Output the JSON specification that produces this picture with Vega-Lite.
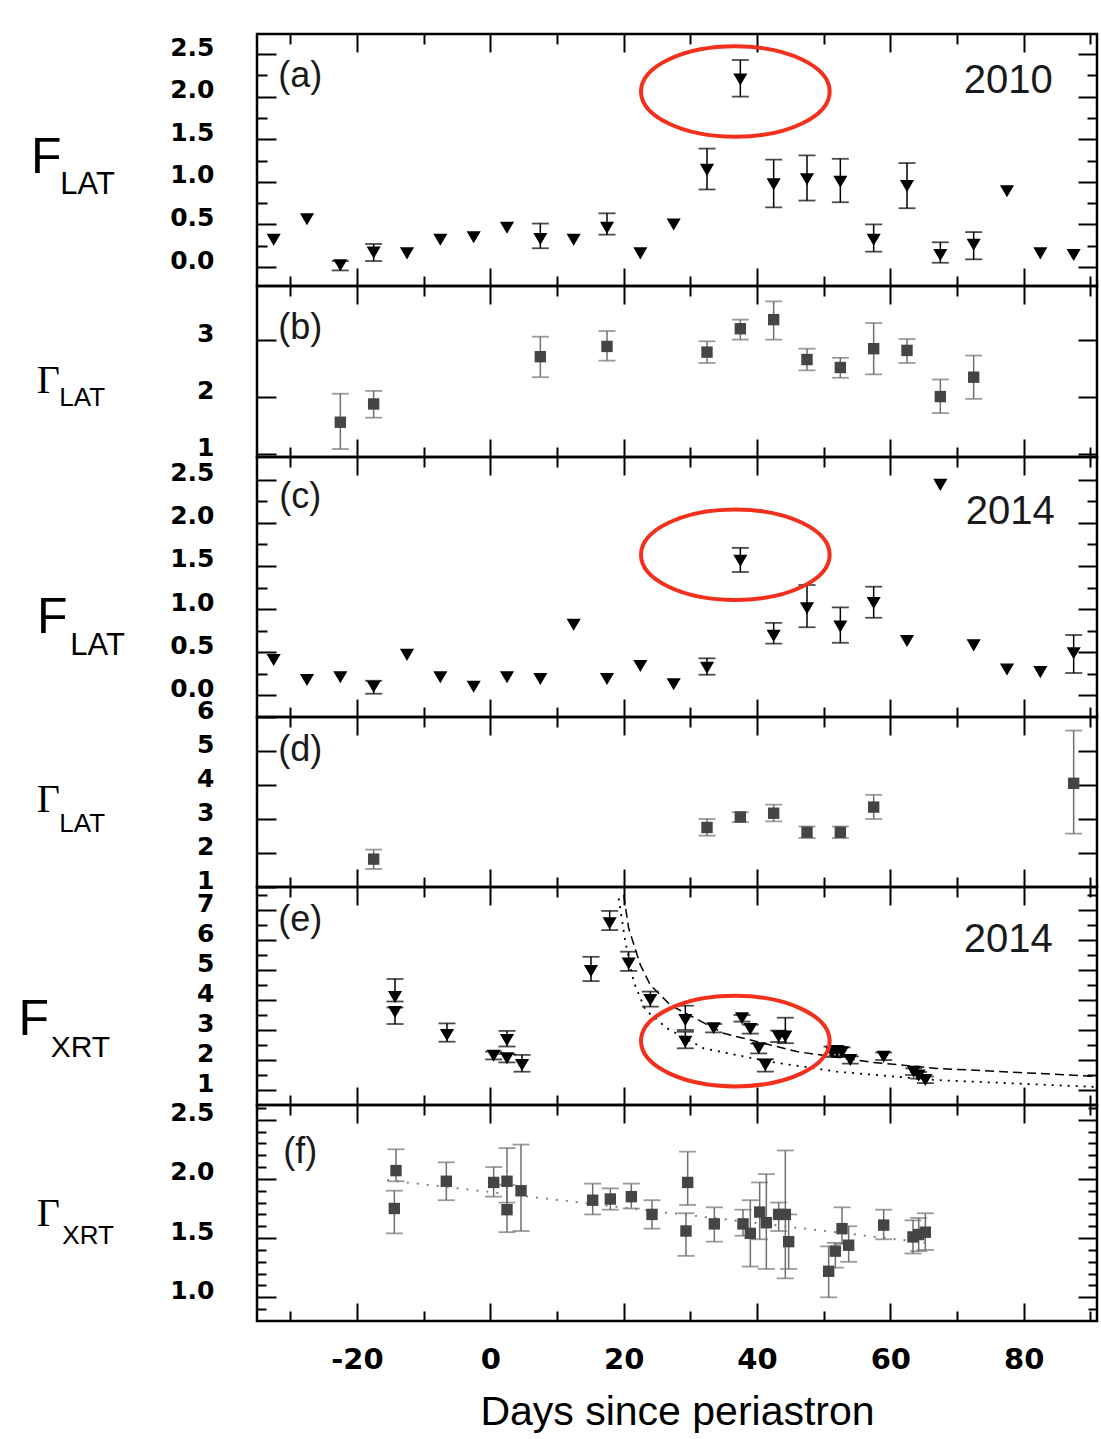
{
  "$schema": "https://vega.github.io/schema/vega-lite/v6.json",
  "background": "white",
  "padding": {"left": 17, "top": 31, "right": 5, "bottom": 5},
  "spacing": 0,
  "bounds": "flush",
  "datasets": {
    "a": [
      {"x": -32.5, "y": 0.32}, {"x": -27.5, "y": 0.56}, {"x": -22.5, "y": 0.02, "lo": -0.04, "hi": 0.07},
      {"x": -17.5, "y": 0.17, "lo": 0.07, "hi": 0.27}, {"x": -12.5, "y": 0.16}, {"x": -7.5, "y": 0.32},
      {"x": -2.5, "y": 0.35}, {"x": 2.5, "y": 0.46}, {"x": 7.5, "y": 0.33, "lo": 0.22, "hi": 0.51},
      {"x": 12.5, "y": 0.32}, {"x": 17.5, "y": 0.46, "lo": 0.38, "hi": 0.63}, {"x": 22.5, "y": 0.16},
      {"x": 27.5, "y": 0.5}, {"x": 32.5, "y": 1.14, "lo": 0.91, "hi": 1.39}, {"x": 37.5, "y": 2.2, "lo": 2.0, "hi": 2.43},
      {"x": 42.5, "y": 0.97, "lo": 0.7, "hi": 1.26}, {"x": 47.5, "y": 1.03, "lo": 0.78, "hi": 1.31},
      {"x": 52.5, "y": 1.0, "lo": 0.76, "hi": 1.27}, {"x": 57.5, "y": 0.32, "lo": 0.18, "hi": 0.5},
      {"x": 62.5, "y": 0.95, "lo": 0.69, "hi": 1.22}, {"x": 67.5, "y": 0.14, "lo": 0.05, "hi": 0.29},
      {"x": 72.5, "y": 0.26, "lo": 0.09, "hi": 0.41}, {"x": 77.5, "y": 0.89}, {"x": 82.5, "y": 0.16}, {"x": 87.5, "y": 0.14}
    ],
    "b": [
      {"x": -22.5, "y": 1.56, "lo": 1.09, "hi": 2.06}, {"x": -17.5, "y": 1.88, "lo": 1.64, "hi": 2.11},
      {"x": 7.5, "y": 2.71, "lo": 2.35, "hi": 3.06}, {"x": 17.5, "y": 2.89, "lo": 2.64, "hi": 3.16},
      {"x": 32.5, "y": 2.79, "lo": 2.6, "hi": 2.98}, {"x": 37.5, "y": 3.2, "lo": 3.01, "hi": 3.36},
      {"x": 42.5, "y": 3.36, "lo": 3.01, "hi": 3.68}, {"x": 47.5, "y": 2.66, "lo": 2.47, "hi": 2.85},
      {"x": 52.5, "y": 2.52, "lo": 2.34, "hi": 2.69}, {"x": 57.5, "y": 2.85, "lo": 2.4, "hi": 3.3},
      {"x": 62.5, "y": 2.82, "lo": 2.6, "hi": 3.02}, {"x": 67.5, "y": 2.01, "lo": 1.72, "hi": 2.31},
      {"x": 72.5, "y": 2.35, "lo": 1.97, "hi": 2.73}
    ],
    "c": [
      {"x": -32.5, "y": 0.41}, {"x": -27.5, "y": 0.18}, {"x": -22.5, "y": 0.21}, {"x": -17.5, "y": 0.1, "lo": 0.02, "hi": 0.17},
      {"x": -12.5, "y": 0.47}, {"x": -7.5, "y": 0.21}, {"x": -2.5, "y": 0.1}, {"x": 2.5, "y": 0.21}, {"x": 7.5, "y": 0.19},
      {"x": 12.5, "y": 0.82}, {"x": 17.5, "y": 0.19}, {"x": 22.5, "y": 0.34}, {"x": 27.5, "y": 0.13},
      {"x": 32.5, "y": 0.32, "lo": 0.24, "hi": 0.43}, {"x": 37.5, "y": 1.56, "lo": 1.43, "hi": 1.71},
      {"x": 42.5, "y": 0.69, "lo": 0.6, "hi": 0.84}, {"x": 47.5, "y": 1.01, "lo": 0.79, "hi": 1.28},
      {"x": 52.5, "y": 0.8, "lo": 0.61, "hi": 1.02}, {"x": 57.5, "y": 1.07, "lo": 0.9, "hi": 1.26},
      {"x": 62.5, "y": 0.63}, {"x": 67.5, "y": 2.44}, {"x": 72.5, "y": 0.58}, {"x": 77.5, "y": 0.3}, {"x": 82.5, "y": 0.27},
      {"x": 87.5, "y": 0.49, "lo": 0.26, "hi": 0.7}
    ],
    "d": [
      {"x": -17.5, "y": 1.82, "lo": 1.53, "hi": 2.1}, {"x": 32.5, "y": 2.75, "lo": 2.51, "hi": 3.0},
      {"x": 37.5, "y": 3.06, "lo": 2.91, "hi": 3.2}, {"x": 42.5, "y": 3.17, "lo": 2.93, "hi": 3.42},
      {"x": 47.5, "y": 2.61, "lo": 2.44, "hi": 2.78}, {"x": 52.5, "y": 2.61, "lo": 2.44, "hi": 2.78},
      {"x": 57.5, "y": 3.35, "lo": 3.0, "hi": 3.71}, {"x": 87.5, "y": 4.05, "lo": 2.57, "hi": 5.6}
    ],
    "e": [
      {"x": -14.3, "y": 4.1, "lo": 3.95, "hi": 4.7}, {"x": -14.3, "y": 3.6, "lo": 3.2, "hi": 3.75},
      {"x": -6.5, "y": 2.83, "lo": 2.61, "hi": 3.22}, {"x": 0.5, "y": 2.14, "lo": 2.02, "hi": 2.28},
      {"x": 2.5, "y": 2.67, "lo": 2.45, "hi": 2.97}, {"x": 2.5, "y": 2.06, "lo": 1.92, "hi": 2.2},
      {"x": 4.75, "y": 1.83, "lo": 1.61, "hi": 2.17}, {"x": 15.1, "y": 4.97, "lo": 4.63, "hi": 5.44},
      {"x": 17.9, "y": 6.56, "lo": 6.33, "hi": 6.97}, {"x": 20.75, "y": 5.22, "lo": 4.97, "hi": 5.61},
      {"x": 24.0, "y": 4.0, "lo": 3.78, "hi": 4.28}, {"x": 29.25, "y": 3.33, "lo": 3.0, "hi": 3.81},
      {"x": 29.25, "y": 2.61, "lo": 2.39, "hi": 2.94}, {"x": 33.5, "y": 3.06, "lo": 2.92, "hi": 3.2},
      {"x": 37.75, "y": 3.39, "lo": 3.28, "hi": 3.5}, {"x": 39.0, "y": 3.03, "lo": 2.88, "hi": 3.18},
      {"x": 40.25, "y": 2.39, "lo": 2.22, "hi": 2.55}, {"x": 41.25, "y": 1.83, "lo": 1.61, "hi": 2.03},
      {"x": 43.25, "y": 2.78, "lo": 2.6, "hi": 2.98}, {"x": 44.25, "y": 2.78, "lo": 2.56, "hi": 3.41},
      {"x": 51.25, "y": 2.26, "lo": 2.1, "hi": 2.45}, {"x": 52.0, "y": 2.3, "lo": 2.15, "hi": 2.45},
      {"x": 52.75, "y": 2.26, "lo": 2.1, "hi": 2.42}, {"x": 54.0, "y": 2.0, "lo": 1.88, "hi": 2.12},
      {"x": 59.0, "y": 2.11, "lo": 2.0, "hi": 2.25}, {"x": 63.5, "y": 1.61, "lo": 1.5, "hi": 1.72},
      {"x": 64.25, "y": 1.48, "lo": 1.38, "hi": 1.6}, {"x": 65.25, "y": 1.33, "lo": 1.23, "hi": 1.45}
    ],
    "e_dash": [
      {"x": 20.0, "y": 7.5}, {"x": 20.75, "y": 6.39}, {"x": 22.5, "y": 5.17}, {"x": 24.0, "y": 4.5},
      {"x": 27.0, "y": 3.83}, {"x": 35.0, "y": 2.89}, {"x": 46.0, "y": 2.28}, {"x": 57.0, "y": 1.93},
      {"x": 67.0, "y": 1.72}, {"x": 77.0, "y": 1.61}, {"x": 91.0, "y": 1.45}
    ],
    "e_dot": [
      {"x": 19.25, "y": 7.39}, {"x": 20.25, "y": 5.94}, {"x": 21.5, "y": 4.61}, {"x": 23.25, "y": 3.67},
      {"x": 26.5, "y": 3.06}, {"x": 32.0, "y": 2.39}, {"x": 42.0, "y": 1.94}, {"x": 52.0, "y": 1.61},
      {"x": 67.0, "y": 1.33}, {"x": 91.0, "y": 1.1}
    ],
    "f": [
      {"x": -14.15, "y": 2.07, "lo": 1.98, "hi": 2.25}, {"x": -14.4, "y": 1.75, "lo": 1.54, "hi": 1.9},
      {"x": -6.6, "y": 1.98, "lo": 1.82, "hi": 2.14}, {"x": 0.5, "y": 1.97, "lo": 1.85, "hi": 2.1},
      {"x": 2.5, "y": 1.98, "lo": 1.8, "hi": 2.26}, {"x": 2.5, "y": 1.74, "lo": 1.55, "hi": 1.95},
      {"x": 4.6, "y": 1.9, "lo": 1.56, "hi": 2.29}, {"x": 15.35, "y": 1.82, "lo": 1.7, "hi": 1.96},
      {"x": 18.0, "y": 1.83, "lo": 1.74, "hi": 1.92}, {"x": 21.15, "y": 1.85, "lo": 1.75, "hi": 1.96},
      {"x": 24.25, "y": 1.7, "lo": 1.58, "hi": 1.82}, {"x": 29.6, "y": 1.97, "lo": 1.78, "hi": 2.23},
      {"x": 29.35, "y": 1.56, "lo": 1.35, "hi": 1.71}, {"x": 33.6, "y": 1.62, "lo": 1.47, "hi": 1.76},
      {"x": 37.9, "y": 1.62, "lo": 1.52, "hi": 1.74}, {"x": 39.0, "y": 1.54, "lo": 1.26, "hi": 1.82},
      {"x": 40.4, "y": 1.72, "lo": 1.49, "hi": 1.97}, {"x": 41.4, "y": 1.63, "lo": 1.24, "hi": 2.04},
      {"x": 43.25, "y": 1.7, "lo": 1.56, "hi": 1.8}, {"x": 44.25, "y": 1.7, "lo": 1.16, "hi": 2.24},
      {"x": 44.75, "y": 1.47, "lo": 1.24, "hi": 1.7}, {"x": 50.75, "y": 1.22, "lo": 1.0, "hi": 1.43},
      {"x": 51.75, "y": 1.39, "lo": 1.25, "hi": 1.46}, {"x": 52.75, "y": 1.58, "lo": 1.45, "hi": 1.76},
      {"x": 53.75, "y": 1.44, "lo": 1.3, "hi": 1.6}, {"x": 59.0, "y": 1.61, "lo": 1.49, "hi": 1.74},
      {"x": 63.4, "y": 1.51, "lo": 1.37, "hi": 1.65}, {"x": 64.25, "y": 1.53, "lo": 1.39, "hi": 1.67},
      {"x": 65.25, "y": 1.55, "lo": 1.4, "hi": 1.71}
    ],
    "f_dot": [{"x": -15.5, "y": 1.99}, {"x": 65.5, "y": 1.46}]
  },
  "config": {
    "view": {"stroke": "black", "strokeWidth": 2.5},
    "axis": {
      "domain": false, "grid": false, "tickColor": "black", "tickWidth": 2,
      "labelFont": "DejaVu Sans", "labelFontWeight": "bold", "labelFontSize": 25, "labelColor": "black",
      "labelOverlap": false, "labelFlush": false, "labelBound": false,
      "titleFont": "Liberation Sans", "titleFontWeight": "normal", "titleColor": "black"
    }
  },
  "resolve": {"scale": {"x": "independent", "y": "independent"}},
  "vconcat": [
    {
      "width": 840, "height": 252, "data": {"name": "a"},
      "resolve": {"axis": {"x": "independent", "y": "independent"}},
      "layer": [
        {"transform": [{"filter": "isValid(datum.lo)"}],
         "mark": {"type": "rule", "color": "black", "strokeWidth": 1.5},
         "encoding": {
           "x": {"field": "x", "type": "quantitative", "scale": {"domain": [-35, 91], "nice": false, "zero": false},
                 "axis": {"orient": "bottom", "values": [-30,-20,-10,0,10,20,30,40,50,60,70,80,90], "labels": false, "title": null,
                          "tickSize": {"condition": {"test": "datum.value % 20 === 0", "value": -18}, "value": -10}}},
           "y": {"field": "lo", "type": "quantitative", "scale": {"domain": [-0.223, 2.735], "nice": false, "zero": false},
                 "axis": {"orient": "left", "values": [0,0.25,0.5,0.75,1,1.25,1.5,1.75,2,2.25,2.5], "title": null,
                          "labelExpr": "abs(datum.value*2 - round(datum.value*2)) < 0.001 ? format(datum.value, '.1f') : ''",
                          "labelPadding": 62, "labelOffset": -7,
                          "tickSize": {"condition": {"test": "abs(datum.value*2 - round(datum.value*2)) < 0.001", "value": -19}, "value": -10}}},
           "y2": {"field": "hi"}}},
        {"transform": [{"filter": "isValid(datum.lo)"}, {"fold": ["lo", "hi"], "as": ["k", "v"]}],
         "mark": {"type": "tick", "orient": "horizontal", "color": "black", "size": 17, "thickness": 1.8},
         "encoding": {
           "x": {"field": "x", "type": "quantitative",
                 "axis": {"orient": "top", "values": [-30,-20,-10,0,10,20,30,40,50,60,70,80,90], "labels": false, "title": null,
                          "tickSize": {"condition": {"test": "datum.value % 20 === 0", "value": -18}, "value": -10}}},
           "y": {"field": "v", "type": "quantitative",
                 "axis": {"orient": "right", "values": [0,0.25,0.5,0.75,1,1.25,1.5,1.75,2,2.25,2.5], "title": null, "labels": false,
                          "tickSize": {"condition": {"test": "abs(datum.value*2 - round(datum.value*2)) < 0.001", "value": -19}, "value": -10}}}}},
        {"mark": {"type": "point", "shape": "M -1 -0.85 L 1 -0.85 L 0 0.85 Z", "filled": true, "color": "black", "size": 200, "opacity": 1},
         "encoding": {"x": {"field": "x", "type": "quantitative", "axis": null}, "y": {"field": "y", "type": "quantitative", "axis": null}}},
        {"data": {"values": [{"t": "(a)"}]}, "mark": {"type": "text", "font": "Liberation Sans", "fontSize": 36, "color": "#1a1a1a"},
         "encoding": {"x": {"datum": -28.5, "type": "quantitative", "axis": null}, "y": {"datum": 2.24, "type": "quantitative", "axis": null}, "text": {"field": "t"}}},
        {"data": {"values": [{"t": "2010"}]}, "mark": {"type": "text", "font": "Liberation Sans", "fontSize": 40, "color": "#1a1a1a"},
         "encoding": {"x": {"datum": 77.7, "type": "quantitative", "axis": null}, "y": {"datum": 2.18, "type": "quantitative", "axis": null}, "text": {"field": "t"}}},
        {"data": {"values": [{"t": "F"}]}, "mark": {"type": "text", "font": "Liberation Sans", "fontSize": 50, "color": "black"},
         "encoding": {"x": {"datum": -66.6, "type": "quantitative", "axis": null}, "y": {"datum": 1.28, "type": "quantitative", "axis": null}, "text": {"field": "t"}}},
        {"data": {"values": [{"t": "LAT"}]}, "mark": {"type": "text", "font": "Liberation Sans", "fontSize": 31, "color": "black", "align": "left", "dx": 14, "dy": 27},
         "encoding": {"x": {"datum": -66.6, "type": "quantitative", "axis": null}, "y": {"datum": 1.28, "type": "quantitative", "axis": null}, "text": {"field": "t"}}},
        {"data": {"values": [{"k": "ring"}]},
         "mark": {"type": "point", "shape": "M -1 0 C -1 -0.2651 -0.5523 -0.48 0 -0.48 C 0.5523 -0.48 1 -0.2651 1 0 C 1 0.2651 0.5523 0.48 0 0.48 C -0.5523 0.48 -1 0.2651 -1 0 Z", "filled": false, "stroke": "#f2301c", "strokeWidth": 4, "size": 35600, "opacity": 1},
         "encoding": {"x": {"datum": 36.75, "type": "quantitative", "axis": null}, "y": {"datum": 2.06, "type": "quantitative", "axis": null}}}
      ]
    },
    {
      "width": 840, "height": 171, "data": {"name": "b"},
      "resolve": {"axis": {"x": "independent", "y": "independent"}},
      "layer": [
        {"transform": [{"filter": "isValid(datum.lo)"}],
         "mark": {"type": "rule", "color": "#707070", "strokeWidth": 1.5},
         "encoding": {
           "x": {"field": "x", "type": "quantitative", "scale": {"domain": [-35, 91], "nice": false, "zero": false},
                 "axis": {"orient": "bottom", "values": [-30,-20,-10,0,10,20,30,40,50,60,70,80,90], "labels": false, "title": null,
                          "tickSize": {"condition": {"test": "datum.value % 20 === 0", "value": -18}, "value": -10}}},
           "y": {"field": "lo", "type": "quantitative", "scale": {"domain": [0.95, 3.95], "nice": false, "zero": false},
                 "axis": {"orient": "left", "values": [1, 2, 3], "title": null, "labelExpr": "format(datum.value, 'd')",
                          "labelPadding": 62, "labelOffset": -7, "tickSize": -19}},
           "y2": {"field": "hi"}}},
        {"transform": [{"filter": "isValid(datum.lo)"}, {"fold": ["lo", "hi"], "as": ["k", "v"]}],
         "mark": {"type": "tick", "orient": "horizontal", "color": "#707070", "size": 17, "thickness": 1.8},
         "encoding": {
           "x": {"field": "x", "type": "quantitative",
                 "axis": {"orient": "top", "values": [-30,-20,-10,0,10,20,30,40,50,60,70,80,90], "labels": false, "title": null,
                          "tickSize": {"condition": {"test": "datum.value % 20 === 0", "value": -18}, "value": -10}}},
           "y": {"field": "v", "type": "quantitative",
                 "axis": {"orient": "right", "values": [1, 2, 3], "title": null, "labels": false, "tickSize": -19}}}},
        {"mark": {"type": "point", "shape": "square", "filled": true, "color": "#454545", "size": 130, "opacity": 1},
         "encoding": {"x": {"field": "x", "type": "quantitative", "axis": null}, "y": {"field": "y", "type": "quantitative", "axis": null}}},
        {"data": {"values": [{"t": "(b)"}]}, "mark": {"type": "text", "font": "Liberation Sans", "fontSize": 36, "color": "#1a1a1a"},
         "encoding": {"x": {"datum": -28.5, "type": "quantitative", "axis": null}, "y": {"datum": 3.22, "type": "quantitative", "axis": null}, "text": {"field": "t"}}},
        {"data": {"values": [{"t": "Γ"}]}, "mark": {"type": "text", "font": "Liberation Serif", "fontSize": 40, "color": "black"},
         "encoding": {"x": {"datum": -66.3, "type": "quantitative", "axis": null}, "y": {"datum": 2.29, "type": "quantitative", "axis": null}, "text": {"field": "t"}}},
        {"data": {"values": [{"t": "LAT"}]}, "mark": {"type": "text", "font": "Liberation Sans", "fontSize": 26, "color": "black", "align": "left", "dx": 11, "dy": 17},
         "encoding": {"x": {"datum": -66.3, "type": "quantitative", "axis": null}, "y": {"datum": 2.29, "type": "quantitative", "axis": null}, "text": {"field": "t"}}}
      ]
    },
    {
      "width": 840, "height": 260, "data": {"name": "c"},
      "resolve": {"axis": {"x": "independent", "y": "independent"}},
      "layer": [
        {"transform": [{"filter": "isValid(datum.lo)"}],
         "mark": {"type": "rule", "color": "black", "strokeWidth": 1.5},
         "encoding": {
           "x": {"field": "x", "type": "quantitative", "scale": {"domain": [-35, 91], "nice": false, "zero": false},
                 "axis": {"orient": "bottom", "values": [-30,-20,-10,0,10,20,30,40,50,60,70,80,90], "labels": false, "title": null,
                          "tickSize": {"condition": {"test": "datum.value % 20 === 0", "value": -18}, "value": -10}}},
           "y": {"field": "lo", "type": "quantitative", "scale": {"domain": [-0.25, 2.763], "nice": false, "zero": false},
                 "axis": {"orient": "left", "values": [0,0.25,0.5,0.75,1,1.25,1.5,1.75,2,2.25,2.5], "title": null,
                          "labelExpr": "abs(datum.value*2 - round(datum.value*2)) < 0.001 ? format(datum.value, '.1f') : ''",
                          "labelPadding": 62, "labelOffset": -7,
                          "tickSize": {"condition": {"test": "abs(datum.value*2 - round(datum.value*2)) < 0.001", "value": -19}, "value": -10}}},
           "y2": {"field": "hi"}}},
        {"transform": [{"filter": "isValid(datum.lo)"}, {"fold": ["lo", "hi"], "as": ["k", "v"]}],
         "mark": {"type": "tick", "orient": "horizontal", "color": "black", "size": 17, "thickness": 1.8},
         "encoding": {
           "x": {"field": "x", "type": "quantitative",
                 "axis": {"orient": "top", "values": [-30,-20,-10,0,10,20,30,40,50,60,70,80,90], "labels": false, "title": null,
                          "tickSize": {"condition": {"test": "datum.value % 20 === 0", "value": -18}, "value": -10}}},
           "y": {"field": "v", "type": "quantitative",
                 "axis": {"orient": "right", "values": [0,0.25,0.5,0.75,1,1.25,1.5,1.75,2,2.25,2.5], "title": null, "labels": false,
                          "tickSize": {"condition": {"test": "abs(datum.value*2 - round(datum.value*2)) < 0.001", "value": -19}, "value": -10}}}}},
        {"mark": {"type": "point", "shape": "M -1 -0.85 L 1 -0.85 L 0 0.85 Z", "filled": true, "color": "black", "size": 200, "opacity": 1},
         "encoding": {"x": {"field": "x", "type": "quantitative", "axis": null}, "y": {"field": "y", "type": "quantitative", "axis": null}}},
        {"data": {"values": [{"t": "(c)"}]}, "mark": {"type": "text", "font": "Liberation Sans", "fontSize": 36, "color": "#1a1a1a"},
         "encoding": {"x": {"datum": -28.5, "type": "quantitative", "axis": null}, "y": {"datum": 2.3, "type": "quantitative", "axis": null}, "text": {"field": "t"}}},
        {"data": {"values": [{"t": "2014"}]}, "mark": {"type": "text", "font": "Liberation Sans", "fontSize": 40, "color": "#1a1a1a"},
         "encoding": {"x": {"datum": 78, "type": "quantitative", "axis": null}, "y": {"datum": 2.13, "type": "quantitative", "axis": null}, "text": {"field": "t"}}},
        {"data": {"values": [{"t": "F"}]}, "mark": {"type": "text", "font": "Liberation Sans", "fontSize": 50, "color": "black"},
         "encoding": {"x": {"datum": -65.7, "type": "quantitative", "axis": null}, "y": {"datum": 0.9, "type": "quantitative", "axis": null}, "text": {"field": "t"}}},
        {"data": {"values": [{"t": "LAT"}]}, "mark": {"type": "text", "font": "Liberation Sans", "fontSize": 31, "color": "black", "align": "left", "dx": 18, "dy": 28},
         "encoding": {"x": {"datum": -65.7, "type": "quantitative", "axis": null}, "y": {"datum": 0.9, "type": "quantitative", "axis": null}, "text": {"field": "t"}}},
        {"data": {"values": [{"k": "ring"}]},
         "mark": {"type": "point", "shape": "M -1 0 C -1 -0.2651 -0.5523 -0.48 0 -0.48 C 0.5523 -0.48 1 -0.2651 1 0 C 1 0.2651 0.5523 0.48 0 0.48 C -0.5523 0.48 -1 0.2651 -1 0 Z", "filled": false, "stroke": "#f2301c", "strokeWidth": 4, "size": 35600, "opacity": 1},
         "encoding": {"x": {"datum": 36.75, "type": "quantitative", "axis": null}, "y": {"datum": 1.63, "type": "quantitative", "axis": null}}}
      ]
    },
    {
      "width": 840, "height": 170, "data": {"name": "d"},
      "resolve": {"axis": {"x": "independent", "y": "independent"}},
      "layer": [
        {"transform": [{"filter": "isValid(datum.lo)"}],
         "mark": {"type": "rule", "color": "#707070", "strokeWidth": 1.5},
         "encoding": {
           "x": {"field": "x", "type": "quantitative", "scale": {"domain": [-35, 91], "nice": false, "zero": false},
                 "axis": {"orient": "bottom", "values": [-30,-20,-10,0,10,20,30,40,50,60,70,80,90], "labels": false, "title": null,
                          "tickSize": {"condition": {"test": "datum.value % 20 === 0", "value": -18}, "value": -10}}},
           "y": {"field": "lo", "type": "quantitative", "scale": {"domain": [1.0, 6.0], "nice": false, "zero": false},
                 "axis": {"orient": "left", "values": [1, 2, 3, 4, 5, 6], "title": null, "labelExpr": "format(datum.value, 'd')",
                          "labelPadding": 62, "labelOffset": -7, "tickSize": -19}},
           "y2": {"field": "hi"}}},
        {"transform": [{"filter": "isValid(datum.lo)"}, {"fold": ["lo", "hi"], "as": ["k", "v"]}],
         "mark": {"type": "tick", "orient": "horizontal", "color": "#707070", "size": 17, "thickness": 1.8},
         "encoding": {
           "x": {"field": "x", "type": "quantitative",
                 "axis": {"orient": "top", "values": [-30,-20,-10,0,10,20,30,40,50,60,70,80,90], "labels": false, "title": null,
                          "tickSize": {"condition": {"test": "datum.value % 20 === 0", "value": -18}, "value": -10}}},
           "y": {"field": "v", "type": "quantitative",
                 "axis": {"orient": "right", "values": [2, 3, 4, 5], "title": null, "labels": false, "tickSize": -19}}}},
        {"mark": {"type": "point", "shape": "square", "filled": true, "color": "#454545", "size": 130, "opacity": 1},
         "encoding": {"x": {"field": "x", "type": "quantitative", "axis": null}, "y": {"field": "y", "type": "quantitative", "axis": null}}},
        {"data": {"values": [{"t": "(d)"}]}, "mark": {"type": "text", "font": "Liberation Sans", "fontSize": 36, "color": "#1a1a1a"},
         "encoding": {"x": {"datum": -28.5, "type": "quantitative", "axis": null}, "y": {"datum": 5.02, "type": "quantitative", "axis": null}, "text": {"field": "t"}}},
        {"data": {"values": [{"t": "Γ"}]}, "mark": {"type": "text", "font": "Liberation Serif", "fontSize": 40, "color": "black"},
         "encoding": {"x": {"datum": -66.3, "type": "quantitative", "axis": null}, "y": {"datum": 3.55, "type": "quantitative", "axis": null}, "text": {"field": "t"}}},
        {"data": {"values": [{"t": "LAT"}]}, "mark": {"type": "text", "font": "Liberation Sans", "fontSize": 26, "color": "black", "align": "left", "dx": 11, "dy": 24},
         "encoding": {"x": {"datum": -66.3, "type": "quantitative", "axis": null}, "y": {"datum": 3.55, "type": "quantitative", "axis": null}, "text": {"field": "t"}}}
      ]
    },
    {
      "width": 840, "height": 218, "data": {"name": "e"},
      "resolve": {"axis": {"x": "independent", "y": "independent"}},
      "layer": [
        {"transform": [{"filter": "isValid(datum.lo)"}],
         "mark": {"type": "rule", "color": "black", "strokeWidth": 1.5},
         "encoding": {
           "x": {"field": "x", "type": "quantitative", "scale": {"domain": [-35, 91], "nice": false, "zero": false},
                 "axis": {"orient": "bottom", "values": [-30,-20,-10,0,10,20,30,40,50,60,70,80,90], "labels": false, "title": null,
                          "tickSize": {"condition": {"test": "datum.value % 20 === 0", "value": -18}, "value": -10}}},
           "y": {"field": "lo", "type": "quantitative", "scale": {"domain": [0.5, 7.767], "nice": false, "zero": false},
                 "axis": {"orient": "left", "values": [1,1.5,2,2.5,3,3.5,4,4.5,5,5.5,6,6.5,7,7.5], "title": null,
                          "labelExpr": "datum.value % 1 === 0 ? format(datum.value, 'd') : ''",
                          "labelPadding": 62, "labelOffset": -7,
                          "tickSize": {"condition": {"test": "datum.value % 1 === 0", "value": -19}, "value": -10}}},
           "y2": {"field": "hi"}}},
        {"transform": [{"filter": "isValid(datum.lo)"}, {"fold": ["lo", "hi"], "as": ["k", "v"]}],
         "mark": {"type": "tick", "orient": "horizontal", "color": "black", "size": 17, "thickness": 1.8},
         "encoding": {
           "x": {"field": "x", "type": "quantitative",
                 "axis": {"orient": "top", "values": [-30,-20,-10,0,10,20,30,40,50,60,70,80,90], "labels": false, "title": null,
                          "tickSize": {"condition": {"test": "datum.value % 20 === 0", "value": -18}, "value": -10}}},
           "y": {"field": "v", "type": "quantitative",
                 "axis": {"orient": "right", "values": [1,1.5,2,2.5,3,3.5,4,4.5,5,5.5,6,6.5,7,7.5], "title": null, "labels": false,
                          "tickSize": {"condition": {"test": "datum.value % 1 === 0", "value": -19}, "value": -10}}}}},
        {"data": {"name": "e_dash"}, "mark": {"type": "line", "color": "black", "strokeWidth": 1.5, "strokeDash": [9, 5]},
         "encoding": {"x": {"field": "x", "type": "quantitative", "axis": null}, "y": {"field": "y", "type": "quantitative", "axis": null}}},
        {"data": {"name": "e_dot"}, "mark": {"type": "line", "color": "black", "strokeWidth": 1.8, "strokeDash": [2, 6]},
         "encoding": {"x": {"field": "x", "type": "quantitative", "axis": null}, "y": {"field": "y", "type": "quantitative", "axis": null}}},
        {"mark": {"type": "point", "shape": "M -1 -0.85 L 1 -0.85 L 0 0.85 Z", "filled": true, "color": "black", "size": 200, "opacity": 1},
         "encoding": {"x": {"field": "x", "type": "quantitative", "axis": null}, "y": {"field": "y", "type": "quantitative", "axis": null}}},
        {"data": {"values": [{"t": "(e)"}]}, "mark": {"type": "text", "font": "Liberation Sans", "fontSize": 36, "color": "#1a1a1a"},
         "encoding": {"x": {"datum": -28.5, "type": "quantitative", "axis": null}, "y": {"datum": 6.67, "type": "quantitative", "axis": null}, "text": {"field": "t"}}},
        {"data": {"values": [{"t": "2014"}]}, "mark": {"type": "text", "font": "Liberation Sans", "fontSize": 40, "color": "#1a1a1a"},
         "encoding": {"x": {"datum": 77.7, "type": "quantitative", "axis": null}, "y": {"datum": 6.0, "type": "quantitative", "axis": null}, "text": {"field": "t"}}},
        {"data": {"values": [{"t": "F"}]}, "mark": {"type": "text", "font": "Liberation Sans", "fontSize": 50, "color": "black"},
         "encoding": {"x": {"datum": -68.5, "type": "quantitative", "axis": null}, "y": {"datum": 3.33, "type": "quantitative", "axis": null}, "text": {"field": "t"}}},
        {"data": {"values": [{"t": "XRT"}]}, "mark": {"type": "text", "font": "Liberation Sans", "fontSize": 30, "color": "black", "align": "left", "dx": 17, "dy": 28},
         "encoding": {"x": {"datum": -68.5, "type": "quantitative", "axis": null}, "y": {"datum": 3.33, "type": "quantitative", "axis": null}, "text": {"field": "t"}}},
        {"data": {"values": [{"k": "ring"}]},
         "mark": {"type": "point", "shape": "M -1 0 C -1 -0.2651 -0.5523 -0.48 0 -0.48 C 0.5523 -0.48 1 -0.2651 1 0 C 1 0.2651 0.5523 0.48 0 0.48 C -0.5523 0.48 -1 0.2651 -1 0 Z", "filled": false, "stroke": "#f2301c", "strokeWidth": 4, "size": 35600, "opacity": 1},
         "encoding": {"x": {"datum": 36.75, "type": "quantitative", "axis": null}, "y": {"datum": 2.63, "type": "quantitative", "axis": null}}}
      ]
    },
    {
      "width": 840, "height": 216, "data": {"name": "f"},
      "resolve": {"axis": {"x": "independent", "y": "independent"}},
      "layer": [
        {"transform": [{"filter": "isValid(datum.lo)"}],
         "mark": {"type": "rule", "color": "#707070", "strokeWidth": 1.5},
         "encoding": {
           "x": {"field": "x", "type": "quantitative", "scale": {"domain": [-35, 91], "nice": false, "zero": false},
                 "axis": {"orient": "bottom", "values": [-30,-20,-10,0,10,20,30,40,50,60,70,80,90], "title": "Days since periastron",
                          "labelExpr": "datum.value % 20 === 0 ? '' + datum.value : ''", "labelFontSize": 29, "labelPadding": 42,
                          "titleFontSize": 41, "titlePadding": 10,
                          "tickSize": {"condition": {"test": "datum.value % 20 === 0", "value": -18}, "value": -10}}},
           "y": {"field": "lo", "type": "quantitative", "scale": {"domain": [0.8, 2.624], "nice": false, "zero": false},
                 "axis": {"orient": "left", "values": [0.9,1.0,1.1,1.2,1.3,1.4,1.5,1.6,1.7,1.8,1.9,2.0,2.1,2.2,2.3,2.4,2.5,2.6], "title": null,
                          "labelExpr": "abs(datum.value*2 - round(datum.value*2)) < 0.001 ? format(datum.value, '.1f') : ''",
                          "labelPadding": 62, "labelOffset": -7,
                          "tickSize": {"condition": {"test": "abs(datum.value*2 - round(datum.value*2)) < 0.001", "value": -19}, "value": -9}}},
           "y2": {"field": "hi"}}},
        {"transform": [{"filter": "isValid(datum.lo)"}, {"fold": ["lo", "hi"], "as": ["k", "v"]}],
         "mark": {"type": "tick", "orient": "horizontal", "color": "#707070", "size": 17, "thickness": 1.8},
         "encoding": {
           "x": {"field": "x", "type": "quantitative",
                 "axis": {"orient": "top", "values": [-30,-20,-10,0,10,20,30,40,50,60,70,80,90], "labels": false, "title": null,
                          "tickSize": {"condition": {"test": "datum.value % 20 === 0", "value": -18}, "value": -10}}},
           "y": {"field": "v", "type": "quantitative",
                 "axis": {"orient": "right", "values": [0.9,1.0,1.1,1.2,1.3,1.4,1.5,1.6,1.7,1.8,1.9,2.0,2.1,2.2,2.3,2.4,2.5,2.6], "title": null, "labels": false,
                          "tickSize": {"condition": {"test": "abs(datum.value*2 - round(datum.value*2)) < 0.001", "value": -19}, "value": -9}}}}},
        {"data": {"name": "f_dot"}, "mark": {"type": "line", "color": "#808080", "strokeWidth": 2, "strokeDash": [2, 8]},
         "encoding": {"x": {"field": "x", "type": "quantitative", "axis": null}, "y": {"field": "y", "type": "quantitative", "axis": null}}},
        {"mark": {"type": "point", "shape": "square", "filled": true, "color": "#454545", "size": 130, "opacity": 1},
         "encoding": {"x": {"field": "x", "type": "quantitative", "axis": null}, "y": {"field": "y", "type": "quantitative", "axis": null}}},
        {"data": {"values": [{"t": "(f)"}]}, "mark": {"type": "text", "font": "Liberation Sans", "fontSize": 36, "color": "#1a1a1a"},
         "encoding": {"x": {"datum": -28.5, "type": "quantitative", "axis": null}, "y": {"datum": 2.23, "type": "quantitative", "axis": null}, "text": {"field": "t"}}},
        {"data": {"values": [{"t": "Γ"}]}, "mark": {"type": "text", "font": "Liberation Serif", "fontSize": 40, "color": "black"},
         "encoding": {"x": {"datum": -66.3, "type": "quantitative", "axis": null}, "y": {"datum": 1.7, "type": "quantitative", "axis": null}, "text": {"field": "t"}}},
        {"data": {"values": [{"t": "XRT"}]}, "mark": {"type": "text", "font": "Liberation Sans", "fontSize": 26, "color": "black", "align": "left", "dx": 14, "dy": 22},
         "encoding": {"x": {"datum": -66.3, "type": "quantitative", "axis": null}, "y": {"datum": 1.7, "type": "quantitative", "axis": null}, "text": {"field": "t"}}}
      ]
    }
  ]
}
